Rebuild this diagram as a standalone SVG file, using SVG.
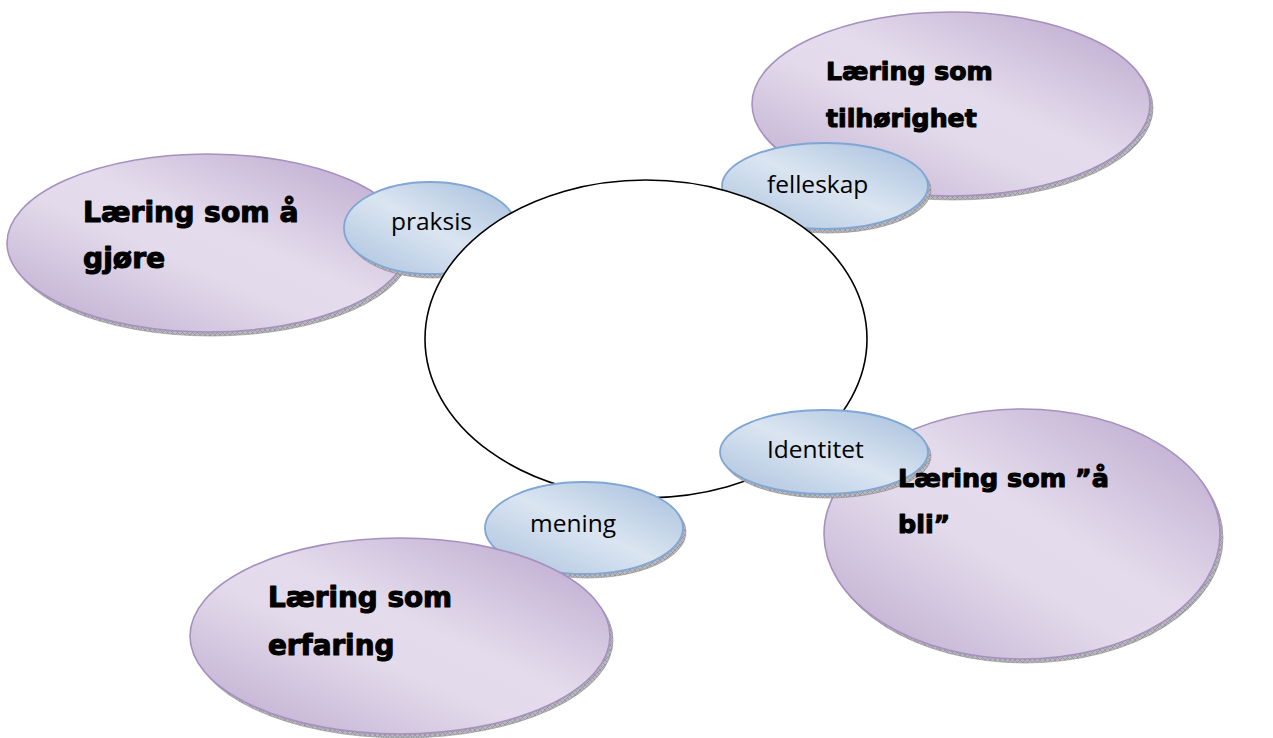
<svg xmlns="http://www.w3.org/2000/svg" width="1273" height="738" viewBox="0 0 1273 738">
<defs>
<linearGradient id="gPurple" x1="1" y1="0" x2="0" y2="1">
<stop offset="0" stop-color="#b9a3cc"/>
<stop offset="0.45" stop-color="#e4dcec"/>
<stop offset="0.58" stop-color="#e3dbeb"/>
<stop offset="1" stop-color="#bba7cd"/>
</linearGradient>
<linearGradient id="gBlue" x1="1" y1="0" x2="0" y2="1">
<stop offset="0" stop-color="#a3bddc"/>
<stop offset="0.5" stop-color="#dbe5f1"/>
<stop offset="1" stop-color="#a9c1de"/>
</linearGradient>
<pattern id="hatch" width="5" height="5" patternUnits="userSpaceOnUse">
<rect width="5" height="5" fill="#b8b8bd"/>
<path d="M0 0L5 5M5 0L0 5" stroke="#85858b" stroke-width="0.6"/>
</pattern>
<style>
.shadow{fill:url(#hatch);stroke:#8c8c92;stroke-width:0.6}
.big{fill:url(#gPurple);stroke:#a690c0;stroke-width:1.6}
.small{fill:url(#gBlue);stroke:#7fa6d4;stroke-width:1.8}
.bt{font-family:"DejaVu Sans","Liberation Sans",sans-serif;font-weight:bold;fill:#000;stroke:#000;stroke-width:1.1;stroke-linejoin:round}
.st{font-family:"Open Sans","Liberation Sans",sans-serif;font-size:24.5px;fill:#000}
.center{fill:#fff;stroke:#000;stroke-width:1.6}
</style>
</defs>
<g id="connectors"/>
<g id="node-tilhorighet">
<ellipse class="shadow" cx="954" cy="108" rx="199" ry="92"/>
<ellipse class="big" cx="951" cy="104" rx="199" ry="92"/>
<text class="bt" font-size="25.2" x="826" y="80">Læring som</text>
<text class="bt" font-size="25.2" x="826" y="127">tilhørighet</text>
</g>
<g id="node-gjore">
<ellipse class="shadow" cx="211" cy="247" rx="201" ry="89"/>
<ellipse class="big" cx="208" cy="243" rx="201" ry="89"/>
<text class="bt" font-size="28.2" x="83" y="222">Læring som å</text>
<text class="bt" font-size="28.2" x="83" y="268">gjøre</text>
</g>
<g id="node-bli">
<ellipse class="shadow" cx="1025" cy="538" rx="198" ry="125"/>
<ellipse class="big" cx="1022" cy="534" rx="198" ry="125"/>
</g>
<g id="node-praksis">
<ellipse class="shadow" cx="433" cy="232" rx="86" ry="46"/>
<ellipse class="small" cx="430" cy="228" rx="86" ry="46"/>
<text class="st" x="391" y="230">praksis</text>
</g>
<g id="node-felleskap">
<ellipse class="shadow" cx="828" cy="190" rx="103" ry="43"/>
<ellipse class="small" cx="825" cy="186" rx="103" ry="43"/>
<text class="st" x="767" y="193">felleskap</text>
</g>
<g id="node-center">
<ellipse class="center" cx="646" cy="339" rx="221" ry="159"/>
</g>
<g id="node-identitet">
<ellipse class="shadow" cx="827" cy="456" rx="104" ry="42"/>
<ellipse class="small" cx="824" cy="452" rx="104" ry="42"/>
<text class="st" x="767" y="458">Identitet</text>
</g>
<g id="node-bli-label">
<text class="bt" font-size="25.4" x="898" y="487">Læring som ”å</text>
<text class="bt" font-size="25.4" x="898" y="533">bli”</text>
</g>
<g id="node-mening">
<ellipse class="shadow" cx="587" cy="532" rx="99" ry="46"/>
<ellipse class="small" cx="584" cy="528" rx="99" ry="46"/>
<text class="st" x="530" y="532">mening</text>
</g>
<g id="node-erfaring">
<ellipse class="shadow" cx="403" cy="640" rx="210" ry="98"/>
<ellipse class="big" cx="400" cy="636" rx="210" ry="98"/>
<text class="bt" font-size="27.8" x="268" y="607">Læring som</text>
<text class="bt" font-size="27.8" x="268" y="655">erfaring</text>
</g>
</svg>
